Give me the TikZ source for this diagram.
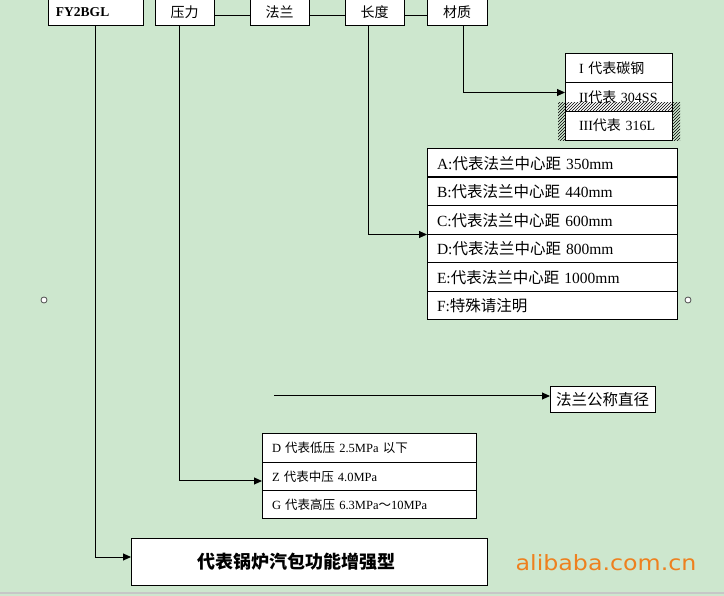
\documentclass[tikz,border=0pt]{standalone}
\usepackage{fontspec}
\setmainfont{Liberation Serif}
\newfontfamily\zhfont{Noto Sans CJK SC}
\newfontfamily\webfont{DejaVu Sans}
\newcommand{\zh}[1]{{\zhfont #1}}
\usepackage{xcolor}
\usepackage{tikz}
\usetikzlibrary{arrows.meta, positioning, patterns}
\definecolor{sheet}{RGB}{205,231,206}
\definecolor{brandorange}{RGB}{238,128,30}

\begin{document}
\begin{tikzpicture}[
  x=1pt, y=-1pt,
  tag/.style={rectangle, draw, fill=white, line width=1pt, outer sep=0pt, inner sep=0pt,
              minimum height=27pt, anchor=north west, font=\fontsize{14}{16}\selectfont},
  matrow/.style={rectangle, draw, fill=white, line width=1pt, outer sep=0pt, inner xsep=14pt,
                 inner ysep=0pt, text width=79pt, minimum height=28.67pt, align=left,
                 font=\fontsize{14}{16}\selectfont},
  lenrow/.style={rectangle, draw, fill=white, line width=1pt, outer sep=0pt, inner xsep=10pt,
                 inner ysep=0pt, text width=230pt, minimum height=28.5pt, align=left,
                 font=\fontsize{15.5}{17}\selectfont},
  prsrow/.style={rectangle, draw, fill=white, line width=1pt, outer sep=0pt, inner xsep=10pt,
                 inner ysep=0pt, text width=194pt, minimum height=28.33pt, align=left,
                 font=\fontsize{12.5}{14}\selectfont},
  link/.style={line width=1pt},
  arr/.style={-{Triangle[length=8pt, width=7pt]}, line width=1pt},
  dot/.style={circle, draw=black!70, fill=white, line width=0.8pt, minimum size=6pt, inner sep=0pt}
]
  \useasboundingbox (0,0) rectangle (724,596);
  \fill[sheet] (0,0) rectangle (724,596);

  % Top row: model code parts
  \node[tag, minimum width=95pt, inner xsep=8pt, text width=79pt, align=left,
        font=\fontsize{13.5}{16}\selectfont\bfseries] (fy) at (48,-1) {FY2BGL};
  \node[tag, minimum width=59pt] (yali) at (155,-1) {\zh{压力}};
  \node[tag, minimum width=59pt] (falan) at (250,-1) {\zh{法兰}};
  \node[tag, minimum width=59pt] (changdu) at (345,-1) {\zh{长度}};
  \node[tag, minimum width=60pt] (caizhi) at (427,-1) {\zh{材质}};
  \draw[link] ([yshift=-3pt]yali.east) -- ([yshift=-3pt]falan.west);
  \draw[link] ([yshift=-3pt]falan.east) -- ([yshift=-3pt]changdu.west);
  \draw[link] ([yshift=-3pt]changdu.east) -- ([yshift=-3pt]caizhi.west);

  % Material list
  \node[matrow, anchor=north west] (mat1) at (565,54) {I \zh{代表碳钢}};
  \node[matrow, below=0pt of mat1] (mat2) {II\zh{代表} 304SS};
  \fill[pattern=north east lines] (558,103) rectangle (680,141);
  \node[matrow, below=0pt of mat2] (mat3) {III\zh{代表} 316L};
  \draw[arr] ([xshift=6pt]caizhi.south) |- ([yshift=4.5pt]mat2.west);

  % Length list
  \node[lenrow, anchor=north west] (len1) at (427,149) {A:\zh{代表法兰中心距} 350mm};
  \node[lenrow, below=0pt of len1] (len2) {B:\zh{代表法兰中心距} 440mm};
  \node[lenrow, below=0pt of len2] (len3) {C:\zh{代表法兰中心距} 600mm};
  \node[lenrow, below=0pt of len3] (len4) {D:\zh{代表法兰中心距} 800mm};
  \node[lenrow, below=0pt of len4] (len5) {E:\zh{代表法兰中心距} 1000mm};
  \node[lenrow, below=0pt of len5] (len6) {F:\zh{特殊请注明}};
  \draw[line width=2pt] (len1.south west) -- (len1.south east);
  \draw[arr] ([xshift=-6.5pt]changdu.south) |- (len4.north west);

  % Side marks
  \node[dot] (markl) at (44,300) {};
  \node[dot] (markr) at (688,300) {};

  % Flange size
  \node[tag, minimum width=105pt, minimum height=26pt, font=\fontsize{15.5}{17}\selectfont]
    (dn) at (550,387) {\zh{法兰公称直径}};
  \coordinate (dnstart) at (274,396);
  \draw[arr] (dnstart) -- ([yshift=4pt]dn.west);

  % Pressure list
  \node[prsrow, anchor=north west] (prs1) at (262,434) {D \zh{代表低压} 2.5MPa \zh{以下}};
  \node[prsrow, below=0pt of prs1] (prs2) {Z \zh{代表中压} 4.0MPa};
  \node[prsrow, below=0pt of prs2] (prs3) {G \zh{代表高压} 6.3MPa\zh{～}10MPa};
  \draw[arr] ([xshift=-5.5pt]yali.south) |- ([yshift=-4.5pt]prs2.west);

  % Bottom: enhanced type
  \node[rectangle, draw, fill=white, line width=1pt, outer sep=0pt, anchor=north west,
        minimum width=356pt, minimum height=47pt, inner xsep=66pt, text width=224pt,
        align=left, font=\fontsize{18}{20}\selectfont\bfseries]
    (enh) at (131,538) {\zh{代表锅炉汽包功能增强型}};
  \draw[arr] (fy.south) |- ([yshift=4.5pt]enh.west);

  % Watermark
  \node[font=\webfont\fontsize{21}{24}\selectfont, text=brandorange] (site) at (606,563)
    {\scalebox{1.13}[1]{alibaba.com.cn}};
  \draw[black!22, line width=2pt] (0,593) -- (724,593);
\end{tikzpicture}
\end{document}
